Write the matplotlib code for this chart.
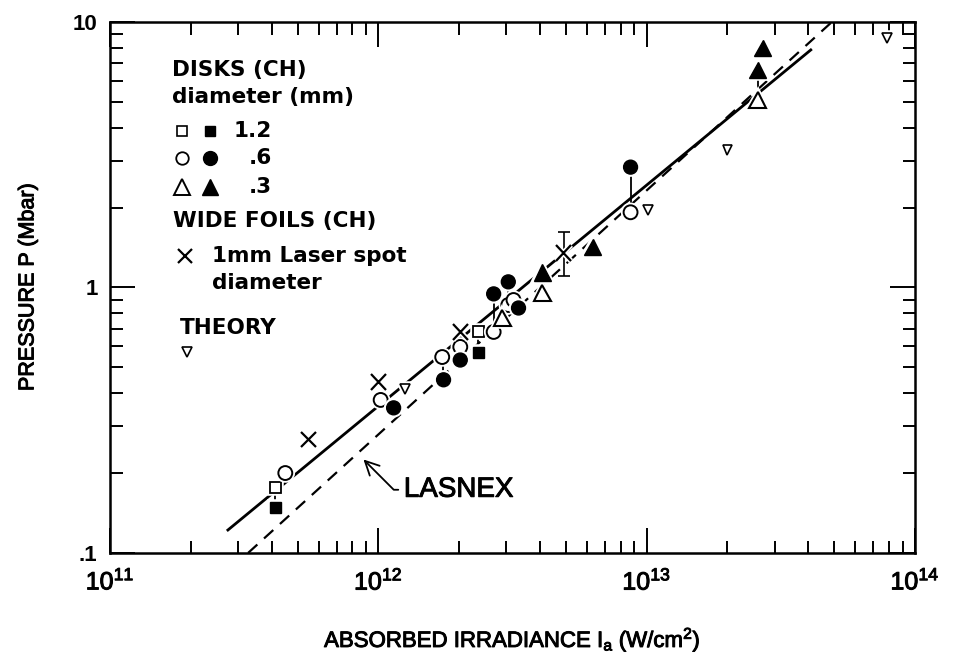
import matplotlib.pyplot as plt
import matplotlib.patheffects as pe
from matplotlib.ticker import FixedLocator, FixedFormatter, LogLocator, NullFormatter

plt.rcParams["font.family"] = ["Liberation Sans", "DejaVu Sans"]
plt.rcParams["mathtext.fontset"] = "custom"
plt.rcParams["mathtext.rm"] = "Liberation Sans"
plt.rcParams["mathtext.it"] = "Liberation Sans"
plt.rcParams["lines.scale_dashes"] = False

# Disks (CH), diameter 1.2 mm
open_sq_I = [4.13e11, 2.36e12]
open_sq_P = [0.177, 0.68]
fill_sq_I = [4.13e11, 2.36e12]
fill_sq_P = [0.148, 0.571]
# Disks (CH), diameter .6 mm
open_ci_I = [4.5e11, 1.02e12, 1.73e12, 2.02e12, 2.69e12, 3.05e12, 3.19e12, 8.71e12]
open_ci_P = [0.20, 0.377, 0.547, 0.597, 0.68, 0.859, 0.897, 1.92]
fill_ci_I = [1.14e12, 1.75e12, 2.02e12, 2.69e12, 3.05e12, 3.33e12, 8.71e12]
fill_ci_P = [0.352, 0.449, 0.533, 0.946, 1.05, 0.837, 2.84]
# Disks (CH), diameter .3 mm
open_tri_I = [2.9e12, 4.09e12, 2.59e13]
open_tri_P = [0.767, 0.953, 5.08]
fill_tri_I = [4.09e12, 6.29e12, 2.59e13, 2.71e13]
fill_tri_P = [1.14, 1.42, 6.6, 7.98]
# Wide foils, 1 mm laser spot
foil_I = [5.48e11, 1.0e12, 2.02e12, 4.9e12]
foil_P = [0.267, 0.441, 0.68, 1.35]
err_I = [4.9e12]
err_mid = [1.35]
err_lo = [1.10]
err_hi = [1.62]
# Theory
theory_I = [1.26e12, 1.01e13, 2.0e13, 7.86e13]
theory_P = [0.415, 1.96, 3.30, 8.7]
# vertical links between open / filled pairs
link_I = [4.13e11, 1.74e12, 2.36e12, 2.69e12, 3.05e12, 4.09e12, 8.71e12, 2.59e13]
link_lo = [0.148, 0.449, 0.571, 0.72, 0.859, 0.953, 1.92, 5.08]
link_hi = [0.177, 0.547, 0.68, 0.946, 1.05, 1.14, 2.84, 6.6]
# fitted line and LASNEX
fit_I = [2.75e11, 4.09e13]
fit_P = [0.122, 7.85]
lasnex_I = [3.27e11, 4.9e13]
lasnex_P = [0.1, 10.0]
lasnex_tip = (8.8e11, 0.225)

x_ticks = [1e11, 1e12, 1e13, 1e14]
x_labels = ["$10^{11}$", "$10^{12}$", "$10^{13}$", "$10^{14}$"]
y_ticks = [0.1, 1, 10]
y_labels = [".1", "1", "10"]

medium = [pe.withStroke(linewidth=0.7, foreground="black")]
halo = [pe.Stroke(linewidth=4, foreground="white"), pe.Normal()]

fig = plt.figure(figsize=(9.61, 6.67), dpi=100)
ax = fig.add_axes([0.1145, 0.171, 0.8376, 0.796])
ax.set_xscale("log")
ax.set_yscale("log")
ax.set_xlim(1e11, 1e14)
ax.set_ylim(0.1, 10)

ax.plot(fit_I, fit_P, color="black", lw=2.0, zorder=1)
ax.plot(lasnex_I, lasnex_P, color="black", lw=1.6, dashes=(9, 6.5), zorder=1)
ax.vlines(link_I, link_lo, link_hi, color="black", lw=1.3, zorder=2)

mk = dict(color="black", linestyle="none", zorder=3, path_effects=halo)
ax.plot(open_sq_I, open_sq_P, marker="s", ms=8, mfc="white", mew=1.3, **mk)
ax.plot(fill_sq_I, fill_sq_P, marker="s", ms=8, **mk)
ax.plot(open_ci_I, open_ci_P, marker="o", ms=10, mfc="white", mew=1.4, **mk)
ax.plot(fill_ci_I, fill_ci_P, marker="o", ms=10, **mk)
ax.plot(open_tri_I, open_tri_P, marker="^", ms=12, mfc="white", mew=1.5, **mk)
ax.plot(fill_tri_I, fill_tri_P, marker="^", ms=12, **mk)
ax.plot(foil_I, foil_P, marker="x", ms=11, mew=1.6, **mk)
ax.plot(theory_I, theory_P, marker="v", ms=7, mfc="white", mew=1.2, **mk)
ax.errorbar(err_I, err_mid,
            yerr=[[m - lo for m, lo in zip(err_mid, err_lo)], [hi - m for m, hi in zip(err_mid, err_hi)]],
            fmt="none", ecolor="black", elinewidth=1.2, capsize=4, capthick=1.2, zorder=2)

# legend written as text inside the axes
lg = dict(transform=ax.transAxes, fontsize=15.5, fontweight="bold", family="DejaVu Sans", va="center")
ax.text(0.077, 0.910, "DISKS (CH)", **lg)
ax.text(0.077, 0.859, "diameter (mm)", **lg)
ax.text(0.201, 0.795, "1.2", ha="right", **lg)
ax.text(0.201, 0.744, ".6", ha="right", **lg)
ax.text(0.201, 0.689, ".3", ha="right", **lg)
ax.text(0.078, 0.625, "WIDE FOILS (CH)", **lg)
ax.text(0.127, 0.559, "1mm Laser spot", **lg)
ax.text(0.127, 0.508, "diameter", **lg)
ax.text(0.087, 0.424, "THEORY", **lg)

lm = dict(transform=ax.transAxes, color="black", clip_on=False, linestyle="none")
ax.plot([0.089], [0.795], marker="s", ms=7, mfc="white", mew=1.2, **lm)
ax.plot([0.124], [0.795], marker="s", ms=7, **lm)
ax.plot([0.089], [0.744], marker="o", ms=9, mfc="white", mew=1.3, **lm)
ax.plot([0.124], [0.744], marker="o", ms=10, **lm)
ax.plot([0.089], [0.689], marker="^", ms=11, mfc="white", mew=1.4, **lm)
ax.plot([0.124], [0.689], marker="^", ms=11, **lm)
ax.plot([0.093], [0.559], marker="x", ms=10, mew=1.6, **lm)
ax.plot([0.096], [0.379], marker="v", ms=7, mfc="white", mew=1.2, **lm)

ax.annotate("LASNEX", xy=lasnex_tip, xycoords="data", xytext=(0.365, 0.119),
            textcoords="axes fraction", ha="left", va="center", fontsize=20,
            path_effects=medium,
            arrowprops=dict(arrowstyle="->,head_length=0.5,head_width=0.25", color="black", lw=1.3,
                            relpos=(0, 0.5), shrinkA=2, shrinkB=0,
                            connectionstyle="angle,angleA=0,angleB=135,rad=0"))

# axes, ticks
ax.xaxis.set_major_locator(FixedLocator(x_ticks))
ax.xaxis.set_major_formatter(FixedFormatter(x_labels))
ax.yaxis.set_major_locator(FixedLocator(y_ticks))
ax.yaxis.set_major_formatter(FixedFormatter(y_labels))
ax.xaxis.set_minor_locator(LogLocator(base=10, subs=range(2, 10)))
ax.yaxis.set_minor_locator(LogLocator(base=10, subs=range(2, 10)))
ax.xaxis.set_minor_formatter(NullFormatter())
ax.yaxis.set_minor_formatter(NullFormatter())
ax.tick_params(which="both", direction="in", top=True, right=True, width=1.4, color="black")
ax.tick_params(which="major", length=18)
ax.tick_params(which="minor", length=9)
ax.tick_params(axis="x", which="major", pad=11, labelsize=18)
ax.tick_params(axis="y", which="major", pad=9, labelsize=16)
for lab in ax.get_yticklabels():
    lab.set_fontweight("bold")
for lab in ax.get_xticklabels():
    lab.set_path_effects(medium)
for sp in ax.spines.values():
    sp.set_linewidth(1.8)

ax.set_xlabel("ABSORBED IRRADIANCE I$_a$ (W/cm$^2$)", fontsize=16, path_effects=medium)
ax.set_ylabel("PRESSURE P (Mbar)", fontsize=15.5, path_effects=medium)
ax.xaxis.label.set_va("center")
ax.yaxis.label.set_va("center")
ax.xaxis.set_label_coords(0.5, -0.164)
ax.yaxis.set_label_coords(-0.102, 0.5)

fig.savefig("out.png", dpi=100)
